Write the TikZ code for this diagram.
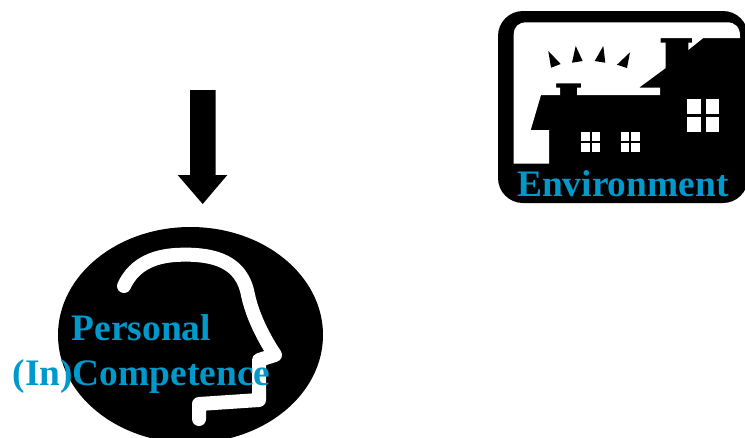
\documentclass[tikz,border=0pt]{standalone}
\usepackage{xcolor}
\usepackage{fontspec}
\setmainfont{Liberation Serif}
\usepackage{tikz}
\definecolor{labelBlue}{HTML}{0099CC}
\tikzset{
  solid/.style={fill=black,draw=none},
  blank/.style={fill=white,draw=none},
  faceline/.style={draw=white,line width=14pt,line cap=round,line join=round},
  biglabel/.style={anchor=base west,inner sep=0pt,text=labelBlue,
    font=\bfseries\fontsize{37.4}{37.4}\selectfont}
}

\begin{document}
\begin{tikzpicture}[x=1pt,y=-1pt]
  \useasboundingbox (0,0) rectangle (745,437);
  \clip (0,0) rectangle (745,437);

  % arrow
  \fill[solid] (190,90) -- (215.7,90) -- (215.7,175) -- (227.3,175)
    -- (202.7,204) -- (177.7,175) -- (190,175) -- cycle;

  % head
  \fill[solid] (190.5,335) ellipse [x radius=132.5,y radius=108];
  \draw[faceline] (124,286) .. controls (135,262) and (158,255) .. (182,254.7)
    .. controls (215,254) and (242,262) .. (248,295)
    .. controls (253,318) and (265,340) .. (275,355)
    -- (259,360) -- (259,400) -- (199,404) -- (199,419);

  % house
  \fill[solid,rounded corners=25pt] (498,11) rectangle (748,203);
  \fill[blank] (513.7,163.7) -- (513.7,35) .. controls (513.7,27) and (518,22.3) .. (527,22.3)
    -- (727,22.3) .. controls (735,22.3) and (740,27) .. (740,36)
    -- (740,38) -- (703.3,38) -- (688.3,50) -- (688.3,42.7) -- (692,42.7)
    -- (692,38) -- (660.7,38) -- (660.7,42.7) -- (665.7,42.7) -- (665.7,68) -- (639,87.7)
    -- (660,87.7) -- (660,95) -- (577,95) -- (577,87.7) -- (581,87.7) -- (581,83.3)
    -- (556,83.3) -- (556,87.7) -- (560,87.7) -- (560,95) -- (541,95) -- (530.7,130)
    -- (549,130) -- (549,163.7) -- cycle;

  % rays
  \fill[solid] (548.3,51) -- (560.7,64) -- (551,67.7) -- cycle;
  \fill[solid] (575.7,46) -- (582.7,61) -- (572,62.7) -- cycle;
  \fill[solid] (603.3,46) -- (605.3,62.7) -- (594.7,61) -- cycle;
  \fill[solid] (630,52.3) -- (627,68) -- (617,64.7) -- cycle;

  % windows
  \foreach \xa/\xb in {687/701,705.7/719.3}
    \foreach \ya/\yb in {99/114.3,117/131.7}
      \fill[blank] (\xa,\ya) rectangle (\xb,\yb);
  \foreach \xa/\xb in {581/590,592/600,621/629,631/640}
    \foreach \ya/\yb in {132/140.7,143.3/152}
      \fill[blank] (\xa,\ya) rectangle (\xb,\yb);

  \node[biglabel] (environment) at (517,196.5) {Environment};
  \node[biglabel] (personal) at (71.5,340.5) {Personal};
  \node[biglabel] (competence) at (12.5,385.5) {(In)Competence};
\end{tikzpicture}
\end{document}
